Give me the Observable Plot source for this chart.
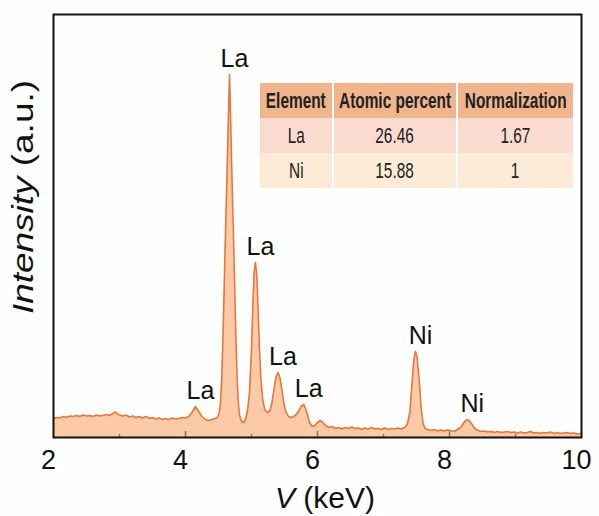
<!DOCTYPE html>
<html>
<head>
<meta charset="utf-8">
<script src="https://cdn.jsdelivr.net/npm/d3@7"></script>
<script src="https://cdn.jsdelivr.net/npm/@observablehq/plot@0.6"></script>
<style>
  html, body { margin: 0; padding: 0; background: #fefefe; }
  #wrap { position: relative; width: 599px; height: 516px; }
  #tbl { position: absolute; left: 260px; top: 83px; width: 309px; table-layout: fixed; border-collapse: collapse;
         font-family: "Liberation Sans", Arial, sans-serif; font-size: 22px; color: #222; }
  #tbl td, #tbl th { height: 35px; padding: 0; text-align: center; border-left: 2px solid #fff; white-space: nowrap; overflow: visible; }
  #tbl td:first-child, #tbl th:first-child { border-left: none; }
  #tbl th { background: #f1b58e; font-weight: bold; }
  #tbl tr.r0 td { background: #fadbcf; }
  #tbl tr.r1 td { background: #fcebd7; }
  #tbl div { display: flex; justify-content: center; align-items: center; width: 100%; }
  #tbl span { flex-shrink: 0; display: inline-block; transform: scaleX(0.7); transform-origin: center; }
</style>
</head>
<body>
<div id="wrap"></div>
<script>
// ---- spectrum (keV vs intensity, a.u.) ----
const energy = [
  2.00,2.05,2.10,2.15,2.20,2.25,2.30,2.35,2.40,2.45,2.50,2.55,2.60,2.65,2.70,2.75,2.80,2.85,2.90,2.94,2.98,
  3.05,3.10,3.15,3.20,3.25,3.30,3.35,3.40,3.45,3.50,3.55,3.60,3.65,3.70,3.75,3.80,3.85,3.90,3.95,4.00,
  4.05,4.10,4.15,4.20,4.25,4.30,4.35,4.40,4.45,4.48,
  4.51,4.53,4.55,4.57,4.59,4.61,4.63,4.65,4.667,4.685,4.70,4.72,4.74,4.76,4.78,4.80,4.82,4.85,4.88,4.91,
  4.94,4.97,5.00,5.02,5.04,5.06,5.08,5.10,5.12,5.14,5.17,5.20,5.24,
  5.28,5.31,5.34,5.37,5.40,5.43,5.46,5.49,5.52,5.56,5.60,
  5.64,5.68,5.72,5.75,5.79,5.82,5.85,5.88,5.92,5.96,6.00,6.04,6.08,6.12,6.17,6.22,6.27,6.32,6.37,6.42,
  6.47,6.52,6.57,6.62,6.67,6.72,6.77,6.82,6.87,6.92,6.97,7.02,7.07,7.12,7.17,7.22,7.27,7.32,
  7.36,7.40,7.43,7.46,7.485,7.51,7.54,7.57,7.60,7.63,7.67,7.72,7.77,7.82,7.87,7.92,7.97,8.02,8.07,8.12,
  8.17,8.20,8.23,8.27,8.31,8.35,8.39,8.43,8.48,8.53,8.58,8.63,8.68,8.73,8.78,8.83,8.88,8.93,8.98,
  9.03,9.08,9.13,9.18,9.23,9.28,9.33,9.38,9.43,9.48,9.53,9.58,9.63,9.68,9.73,9.78,9.83,9.88,9.93,9.98,10.00
];
const intensity = [
  19,20,19.5,21,20,21.5,21,22,21,22.5,21.5,22,21,22.5,21.5,22,23,22,24,25.5,23,
  21.5,22.5,20.5,21.5,20,21,19.5,21,19,20,18.5,19.5,18,19,18,19.5,18.5,19,20,19.5,
  21,25,31,26,21,18,17,18,19,20,
  24,34,60,105,160,215,265,320,363,315,270,220,165,110,62,35,22,16,15,18,
  27,45,88,130,165,175,162,128,90,60,38,28,25,
  27,35,48,60,65,60,48,34,26,21,20,
  21,23,27,31,33,29,22,15,11,12,15,17,15,12,10,11,9,10,8.5,10,
  9,10.5,9,9.5,8,9.5,8.5,10,8.5,9,8,9.5,8,9,8.5,9.5,8.5,10,
  13,25,52,78,86,80,58,30,14,9,8,7,8,6.5,7.5,6.5,7.5,7,6,8,
  10,13,16,18,16,12,8.5,7,6,6.5,5.5,6,5,6,5,5.5,6,5,5.5,
  4.5,5.5,4.5,5,6,4.5,5,4,5,4.5,5.5,4,5,4,4.5,5,4,4.5,3.5,4,4
];

// ---- peak annotations ----
const peakEnergy  = [4.15, 4.667, 5.06, 5.40, 5.79, 7.485, 8.27];
const peakHeight  = [31, 363, 175, 65, 33, 86, 18];
const peakElement = ["La", "La", "La", "La", "La", "Ni", "Ni"];

// ---- axis ticks ----
const tickLabels = [2, 4, 6, 8, 10];
const majorTicks = [4, 6, 8];
const minorTicks = [3, 5, 7, 9];

// ---- composition table ----
const tableHeader = ["Element", "Atomic percent", "Normalization"];
const tableElement = ["La", "Ni"];
const tablePercent = ["26.46", "15.88"];
const tableNorm = ["1.67", "1"];

const spectrum = energy.map((e, i) => ({e, v: intensity[i]}));
const peaks = peakEnergy.map((e, i) => ({e, v: peakHeight[i], name: peakElement[i]}));

const font = "'Liberation Sans', Arial, sans-serif";

const chart = Plot.plot({
  width: 599,
  height: 516,
  marginLeft: 53,
  marginRight: 18,
  marginTop: 14,
  marginBottom: 79,
  style: {fontFamily: font, background: "transparent", color: "#111"},
  x: {domain: [2, 10]},
  y: {domain: [0, 423], axis: null},
  marks: [
    Plot.areaY(spectrum, {x: "e", y: "v", fill: "#fccaa6", curve: "linear"}),
    Plot.lineY(spectrum, {x: "e", y: "v", stroke: "#e8773a", strokeWidth: 1.6, curve: "linear"}),
    Plot.axisX({ticks: majorTicks, tickSize: 6, dy: -6, tickFormat: () => "", stroke: "#777", strokeWidth: 1.5, label: null}),
    Plot.axisX({ticks: minorTicks, tickSize: 3, dy: -3, tickFormat: () => "", stroke: "#777", strokeWidth: 1.5, label: null}),
    Plot.axisX({ticks: tickLabels, tickSize: 0, tickPadding: 12, dx: -5, fontSize: 27, fill: "#111", label: null}),
    Plot.frame({stroke: "#111", strokeWidth: 2}),
    Plot.text(peaks, {x: "e", y: "v", text: "name", dx: 5, dy: -8, lineAnchor: "bottom", fontSize: 25, fill: "#111"})
  ]
});

const svg = d3.select(chart);
const xl = svg.append("text")
  .attr("x", 325).attr("y", 508)
  .attr("text-anchor", "middle")
  .attr("font-family", font).attr("font-size", 30).attr("fill", "#111");
xl.append("tspan").attr("font-style", "italic").text("V");
xl.append("tspan").text(" (keV)");

const yl = svg.append("text")
  .attr("transform", "translate(33,197) rotate(-90)")
  .attr("text-anchor", "middle")
  .attr("textLength", 234).attr("lengthAdjust", "spacingAndGlyphs")
  .attr("font-family", font).attr("font-size", 30).attr("fill", "#111");
yl.append("tspan").attr("font-style", "italic").text("Intensity");
yl.append("tspan").text(" (a.u.)");

const wrap = document.getElementById("wrap");
wrap.appendChild(chart);

// table overlay
const tbl = d3.select(wrap).append("table").attr("id", "tbl");
const colW = [72, 122, 115];
const hr = tbl.append("tr");
tableHeader.forEach((h, i) => hr.append("th").style("width", colW[i] + "px").append("div").append("span").text(h));
tableElement.forEach((el, i) => {
  const r = tbl.append("tr").attr("class", "r" + i);
  [el, tablePercent[i], tableNorm[i]].forEach(v => r.append("td").append("div").append("span").text(v));
});
</script>
</body>
</html>
